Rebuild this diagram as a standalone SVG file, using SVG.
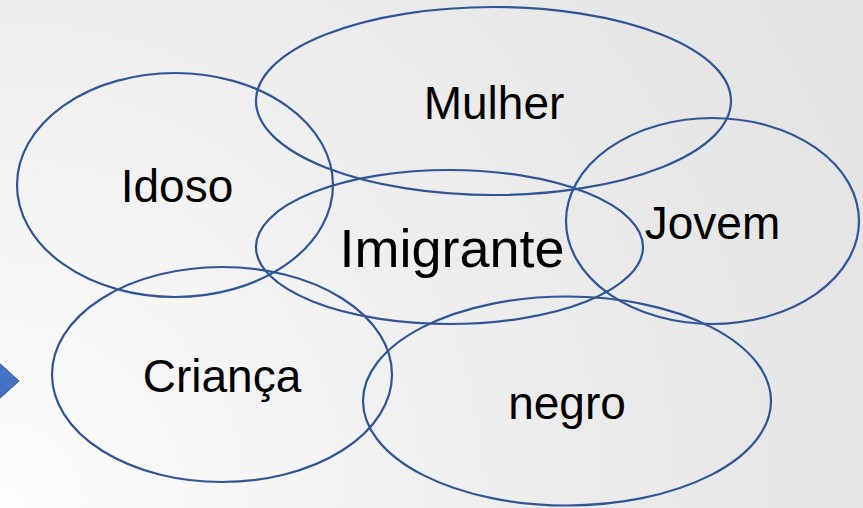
<svg xmlns="http://www.w3.org/2000/svg" width="863" height="508" viewBox="0 0 863 508">
<defs>
<radialGradient id="bg" gradientUnits="userSpaceOnUse" cx="0" cy="508" r="1000">
<stop offset="0" stop-color="#fdfdfd"/>
<stop offset="0.5" stop-color="#eeeeee"/>
<stop offset="0.86" stop-color="#e5e5e5"/>
<stop offset="1" stop-color="#e3e3e3"/>
</radialGradient>
</defs>
<style>
.set{fill:none;stroke:#2f5597;stroke-width:2.2}
.lbl{font-family:"Liberation Sans",Arial,sans-serif;font-size:46px;fill:#000;text-anchor:middle}
.big{font-size:54px}
</style>
<rect width="863" height="508" fill="url(#bg)"/>
<polygon points="-2,362 19,381 -2,400" fill="#4472c4" stroke="#2f528f" stroke-width="1"/>
<g id="node-idoso"><ellipse class="set" cx="175" cy="185" rx="158" ry="112"/><text class="lbl" x="177" y="202">Idoso</text></g>
<g id="node-mulher"><ellipse class="set" cx="493.5" cy="101" rx="237.5" ry="94"/><text class="lbl" x="494" y="119">Mulher</text></g>
<g id="node-imigrante"><ellipse class="set" cx="449.5" cy="247" rx="193.5" ry="77"/><text class="lbl big" x="452" y="267">Imigrante</text></g>
<g id="node-jovem"><ellipse class="set" cx="712.5" cy="221" rx="146.5" ry="103"/><text class="lbl" x="712.5" y="239">Jovem</text></g>
<g id="node-crianca"><ellipse class="set" cx="222" cy="374.5" rx="170" ry="107.5"/><text class="lbl" x="222" y="392">Criança</text></g>
<g id="node-negro"><ellipse class="set" cx="567" cy="401" rx="204" ry="104.5"/><text class="lbl" x="567" y="419">negro</text></g>
<g id="connectors"/>
</svg>
